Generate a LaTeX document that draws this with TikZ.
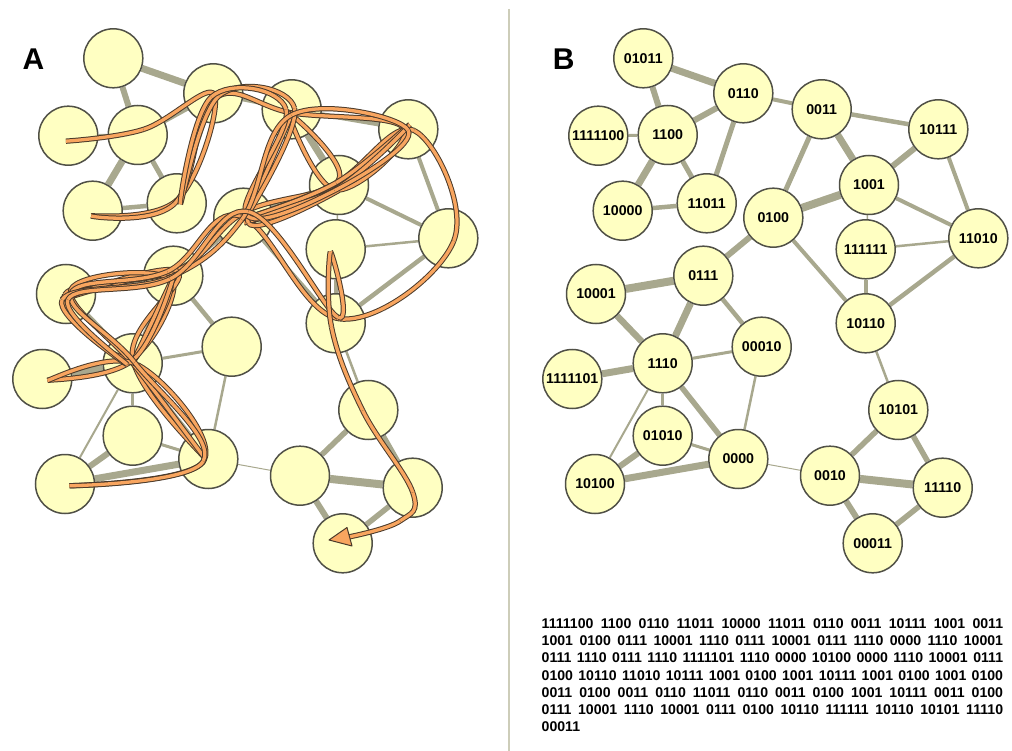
\documentclass[tikz,border=0pt]{standalone}
\usepackage{fontspec}
\setmainfont{Liberation Sans}
\usetikzlibrary{calc,decorations.pathreplacing}
\pgfdeclarelayer{background}
\pgfsetlayers{background,main}
\definecolor{nodefill}{RGB}{255,255,194}
\definecolor{nodeline}{RGB}{80,80,70}
\definecolor{edgec}{RGB}{168,168,142}
\definecolor{sepc}{RGB}{205,205,185}
\definecolor{strandc}{RGB}{248,165,95}
\definecolor{strandedge}{RGB}{75,58,42}
\tikzset{
 vertex/.style={circle, draw=nodeline, line width=1.5pt, fill=nodefill, minimum size=59pt, inner sep=0pt, font=\fontsize{14.2pt}{14pt}\selectfont\bfseries},
 edge/.style={draw=edgec},
 strand/.style={draw=strandedge, line width=1pt, double=strandc, double distance=3.3pt},
 tangle/.style={decorate, decoration={show path construction,
   lineto code={\draw[strand] (\tikzinputsegmentfirst) -- (\tikzinputsegmentlast);},
   curveto code={\draw[strand] (\tikzinputsegmentfirst) .. controls (\tikzinputsegmentsupporta) and (\tikzinputsegmentsupportb) .. (\tikzinputsegmentlast);}}},
 panel/.style={font=\fontsize{30pt}{30pt}\selectfont\bfseries, inner sep=0pt},
 seqline/.style={anchor=base west, inner sep=0pt, font=\fontsize{14.1pt}{17pt}\selectfont\bfseries},
 sepline/.style={draw=sepc, line width=2.5pt}
}
\begin{document}
\begin{tikzpicture}[x=1pt,y=-1pt]
\useasboundingbox (0,0) rectangle (1012,751);
% separator
\coordinate (sepT) at (509,9);
\coordinate (sepB) at (509,751);
\draw[sepline] (sepT) -- (sepB);
% panel letters
\node[panel] (labA) at (33.5,59.2) {A};
\node[panel] (labB) at (563.8,59.2) {B};
% vertices (B positions; A = B shifted 530 left)
\foreach \nm/\x/\y in {
 01011/643.3/58.3, 0110/743.3/93.3, 0011/821.7/109.3, 10111/938.3/129.3,
 1111100/598.3/135.7, 1100/667.7/135, 1001/869/185, 10000/622.7/210.7,
 11011/706.7/203.3, 0100/773.3/217.7, 111111/865.7/249.3, 11010/978.3/238.3,
 0111/703.3/275.7, 10001/596/294, 10110/865.7/323.3, 00010/761.7/346.7,
 1110/662.7/363.3, 1111101/572.3/379, 10101/898.3/410, 01010/662.7/435.7,
 0000/738.3/459, 10100/595/484, 0010/830/475.7, 11110/942.7/487.7,
 00011/872.7/543.3} {
  \node[vertex] (b\nm) at (\x,\y) {\nm};
  \node[vertex] (a\nm) at (\x-530,\y) {};
}
% edges
\begin{pgfonlayer}{background}
\foreach \u/\v/\w in {
 01011/0110/7, 01011/1100/6, 1100/0110/6, 1111100/1100/3, 1100/10000/7,
 1100/11011/5, 0110/11011/5, 10000/11011/4.5, 0110/0011/4, 0011/10111/4.5,
 0011/0100/5, 0011/1001/7, 1001/10111/6, 0100/1001/8, 1001/11010/4,
 10111/11010/4, 1001/111111/1.5, 111111/11010/2.5, 11010/10110/4.5,
 111111/10110/4, 0100/10110/4, 0100/0111/6, 10001/0111/8, 0111/1110/7,
 0111/00010/4.5, 10001/1110/6.5, 1111101/1110/7, 1110/00010/3,
 1110/0000/5.5, 1110/01010/3, 1110/10100/2, 00010/0000/2.5,
 01010/10100/6, 01010/0000/3, 10100/0000/7, 0000/0010/1,
 10110/10101/2.5, 10101/0010/5.5, 10101/11110/5.5, 0010/11110/8,
 0010/00011/6, 11110/00011/5.5} {
  \draw[edge, line width=\w pt] (a\u) -- (a\v);
  \draw[edge, line width=\w pt] (b\u) -- (b\v);
}
\end{pgfonlayer}
% walk in panel A
\pgfmathsetseed{12}
\foreach \nm [count=\i] in {
 1111100,1100,0110,11011,10000,11011,0110,0011,10111,1001,0011,
 1001,0100,0111,10001,1110,0111,10001,0111,1110,0000,1110,10001,
 0111,1110,0111,1110,1111101,1110,0000,10100,0000,1110,10001,0111,
 0100,10110,11010,10111,1001,0100,1001,10111,1001,0100,1001,0100,
 0011,0100,0011,0110,11011,0110,0011,0100,1001,10111,0011,0100,
 0111,10001,1110,10001,0111,0100,10110,111111,10110,10101,11110} {
  \coordinate (p\i) at ($(a\nm)+({6*rand},{6*rand})$);
}
\coordinate (q1) at (400,521);
\coordinate (q2) at (349.5,536.8);
\path[tangle] plot[smooth, tension=0.65] coordinates {
 (p1) (p2) (p3) (p4) (p5) (p6) (p7) (p8) (p9) (p10)
 (p11) (p12) (p13) (p14) (p15) (p16) (p17) (p18) (p19) (p20)
 (p21) (p22) (p23) (p24) (p25) (p26) (p27) (p28) (p29) (p30)
 (p31) (p32) (p33) (p34) (p35) (p36) (p37) (p38) (p39) (p40)
 (p41) (p42) (p43) (p44) (p45) (p46) (p47) (p48) (p49) (p50)
 (p51) (p52) (p53) (p54) (p55) (p56) (p57) (p58) (p59) (p60)
 (p61) (p62) (p63) (p64) (p65) (p66) (p67) (p68) (p69) (p70)
 (q1) (q2)};
% arrow head
\coordinate (tip) at (329,540);
\coordinate (tb1) at (347,527.5);
\coordinate (tb2) at (352,546);
\filldraw[fill=strandc, draw=strandedge, line width=1pt, line join=round] (tip) -- (tb1) -- (tb2) -- cycle;
% walk as text
\node[seqline] (t1) at (541.5,628.3) {\makebox[461.5pt][s]{1111100 1100 0110 11011 10000 11011 0110 0011 10111 1001 0011}};
\node[seqline] (t2) at (541.5,645.5) {\makebox[461.5pt][s]{1001 0100 0111 10001 1110 0111 10001 0111 1110 0000 1110 10001}};
\node[seqline] (t3) at (541.5,662.8) {\makebox[461.5pt][s]{0111 1110 0111 1110 1111101 1110 0000 10100 0000 1110 10001 0111}};
\node[seqline] (t4) at (541.5,680.0) {\makebox[461.5pt][s]{0100 10110 11010 10111 1001 0100 1001 10111 1001 0100 1001 0100}};
\node[seqline] (t5) at (541.5,697.2) {\makebox[461.5pt][s]{0011 0100 0011 0110 11011 0110 0011 0100 1001 10111 0011 0100}};
\node[seqline] (t6) at (541.5,714.5) {\makebox[461.5pt][s]{0111 10001 1110 10001 0111 0100 10110 111111 10110 10101 11110}};
\node[seqline] (t7) at (541.5,731.7) {00011};
\end{tikzpicture}
\end{document}
